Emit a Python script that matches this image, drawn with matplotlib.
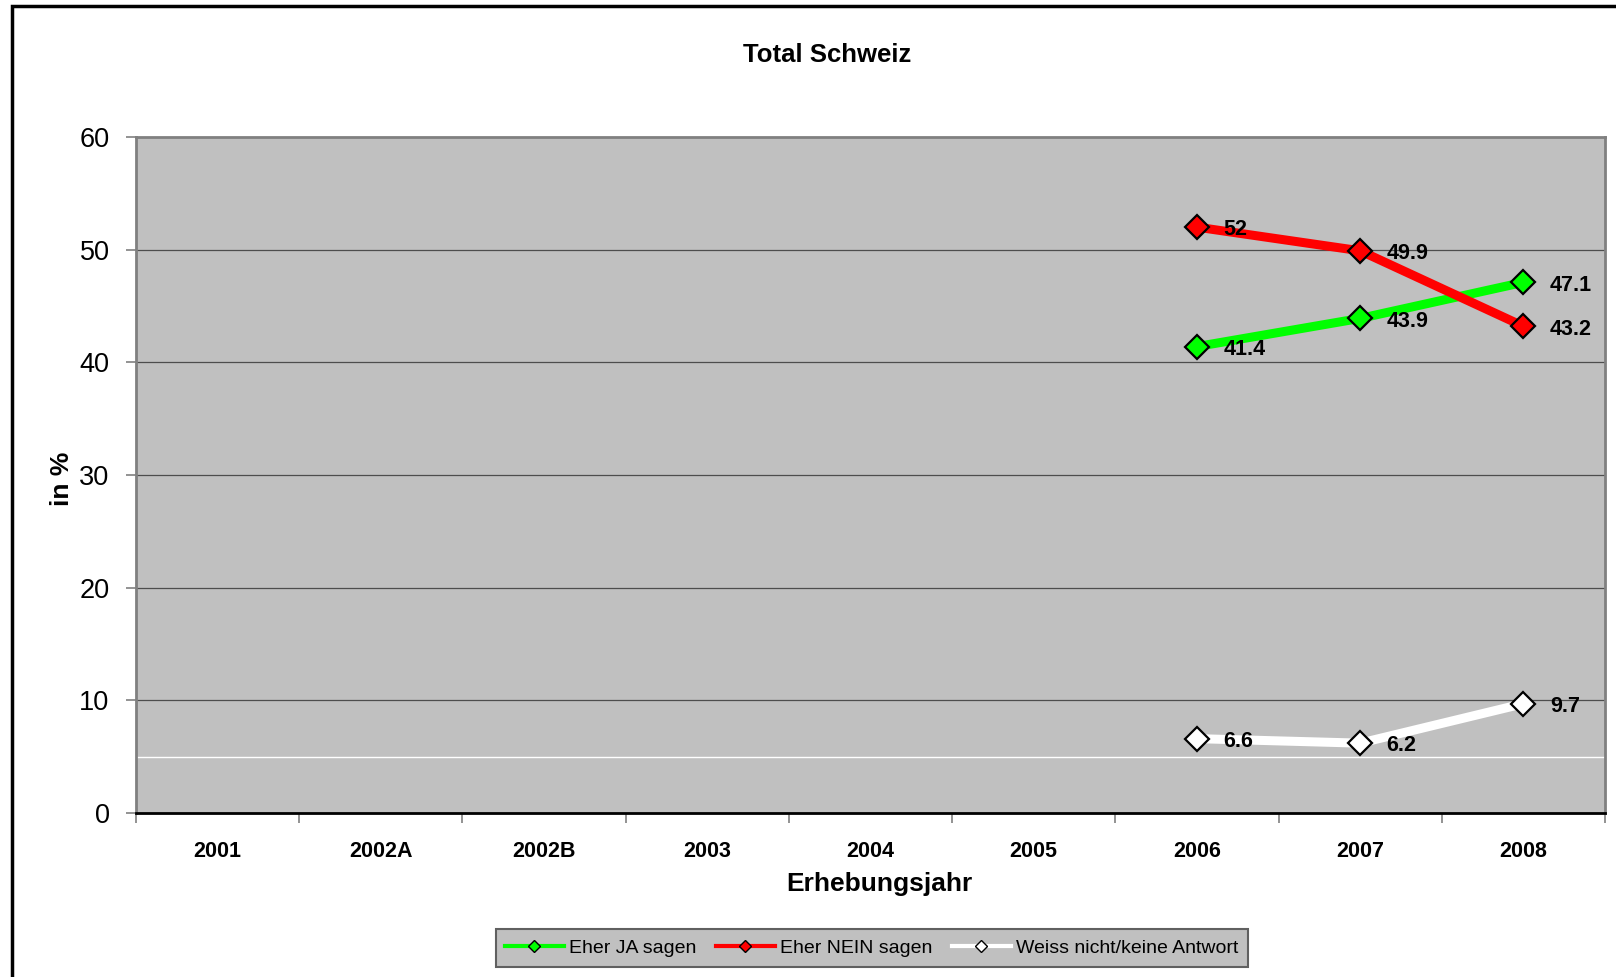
import matplotlib
matplotlib.use("Agg")
import matplotlib.pyplot as plt
from matplotlib.patches import Rectangle

plt.rcParams['font.family'] = ['Liberation Sans', 'DejaVu Sans']

# data
years = ['2001', '2002A', '2002B', '2003', '2004', '2005', '2006', '2007', '2008']
ja = [None, None, None, None, None, None, 41.4, 43.9, 47.1]
nein = [None, None, None, None, None, None, 52, 49.9, 43.2]
weiss = [None, None, None, None, None, None, 6.6, 6.2, 9.7]
labels_ja = ['41.4', '43.9', '47.1']
labels_nein = ['52', '49.9', '43.2']
labels_weiss = ['6.6', '6.2', '9.7']

W, H = 1616, 977
fig = plt.figure(figsize=(W / 100, H / 100), dpi=100)
ax = fig.add_axes([136 / W, 1 - 813 / H, (1605 - 136) / W, (813 - 137) / H])
ax.set_facecolor('#C0C0C0')

x = list(range(len(years)))

# === gridlines ===
for v in [10, 20, 30, 40, 50]:
    ax.axhline(v, color='#4d4d4d', lw=0.9, zorder=1)
ax.axhline(5, color='white', lw=1.0, zorder=1)

series = [
    ('Eher JA sagen', ja, labels_ja, '#00FF00'),
    ('Eher NEIN sagen', nein, labels_nein, '#FF0000'),
    ('Weiss nicht/keine Antwort', weiss, labels_weiss, '#FFFFFF'),
]
handles = []
for name, vals, labs, col in series:
    xs = [i for i, v in zip(x, vals) if v is not None]
    ys = [v for v in vals if v is not None]
    ax.plot(xs, ys, color=col, lw=6.5, zorder=3, solid_capstyle='butt')
    ax.plot(xs, ys, ls='none', marker='D', markersize=12.5, markerfacecolor=col,
            markeredgecolor='black', markeredgewidth=1.6, zorder=4)
    h, = plt.plot([], [], color=col, lw=3, marker='D', markersize=6,
                  markerfacecolor=col, markeredgecolor='black', markeredgewidth=1)
    handles.append((h, name))
    for xi, yi, lab in zip(xs, ys, labs):
        ax.annotate(lab, (xi, yi), xytext=(19, -2), textcoords='offset points',
                    ha='left', va='center', fontsize=15.5, fontweight='bold', zorder=5)

ax.set_xlim(-0.5, len(years) - 0.5)
ax.set_ylim(0, 60)
ax.set_yticks([0, 10, 20, 30, 40, 50, 60])
ax.tick_params(axis='y', labelsize=19.5, length=7, color='#808080', pad=12, width=1.2)
ax.set_xticks(x)
ax.set_xticklabels(years, fontsize=15.5, fontweight='bold')
ax.tick_params(axis='x', length=0, pad=20)
ax.set_xticks([i + 0.5 for i in x[:-1]] + [-0.5, len(years) - 0.5], minor=True)
ax.tick_params(axis='x', which='minor', length=7, color='#808080', width=1.2)

for s in ['left', 'top', 'right']:
    ax.spines[s].set_color('#808080')
    ax.spines[s].set_linewidth(2)
ax.spines['bottom'].set_color('black')
ax.spines['bottom'].set_linewidth(2)

ax.set_xlabel('Erhebungsjahr', fontsize=19, fontweight='bold')
ax.xaxis.set_label_coords((879 - 136) / (1605 - 136), -(884 - 813) / (813 - 137))
ax.xaxis.label.set_va('center')
ax.set_ylabel('in %', fontsize=19, fontweight='bold')
ax.yaxis.set_label_coords(-(136 - 62) / (1605 - 136), (813 - 479) / (813 - 137))
ax.yaxis.label.set_va('center')
fig.text(827 / W, 1 - 55 / H, 'Total Schweiz', ha='center', va='center',
         fontsize=18.5, fontweight='bold')

leg = fig.legend([h for h, _ in handles], [n for _, n in handles], ncol=3,
                 loc='center', bbox_to_anchor=(872 / W, 1 - 948 / H),
                 fontsize=14, frameon=True, fancybox=False, handlelength=3,
                 columnspacing=1.0, handletextpad=0.3, borderpad=0.5)
leg.get_frame().set_facecolor('#C0C0C0')
leg.get_frame().set_edgecolor('#606060')
leg.get_frame().set_linewidth(1.5)
leg.get_frame().set_alpha(1)

# outer chart frame
fig.patches.append(Rectangle((12 / W, -0.1), 1.2, 1 - 6 / H + 0.1, transform=fig.transFigure,
                             fill=False, edgecolor='black', lw=2.5))

fig.savefig('out.png', dpi=100)
